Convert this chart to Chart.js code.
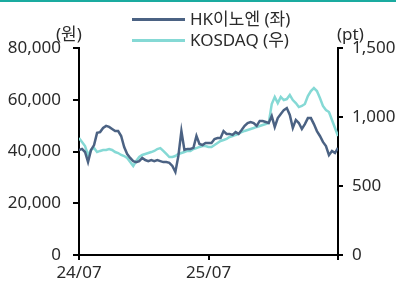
<!DOCTYPE html>
<html>
<head>
<meta charset="utf-8">
<script src="https://cdn.jsdelivr.net/npm/chart.js@4"></script>
<style>
  body { margin: 0; background: #fff; font-family: "Noto Sans", "Noto Sans CJK KR", sans-serif; }
  #wrap { position: relative; width: 396px; height: 282px; overflow: hidden; }
  #topline { position: absolute; left: 0; top: 0; width: 396px; height: 2px; background: #1aaba0; }
  canvas { position: absolute; left: 0; top: 0; }
  .txt { position: absolute; font-size: 17px; color: #2a2a2a; white-space: nowrap; line-height: 1; }
  .swatch { position: absolute; height: 3px; width: 53px; }
</style>
</head>
<body>
<div id="wrap">
  <div id="topline"></div>
  <canvas id="chart" width="396" height="282"></canvas>
  <div id="legend"></div>
  <div class="txt" style="left:56px;top:25px;">(원)</div>
  <div class="txt" style="left:337px;top:25px;">(pt)</div>
</div>
<script>
const seriesNames = ["HK이노엔 (좌)", "KOSDAQ (우)"];
const seriesColors = ["#4b6283", "#85d9d5"];

// x positions run in months from 24/07 (0) to 26/07 (24)
const tickLabels = { 0: "24/07", 12: "25/07" };

const hkValues = [
  40600, 41000, 39800, 35900, 40600, 42500, 47200, 47500, 49100, 49900,
  49500, 48700, 47900, 47900, 46000, 41700, 39000, 37500, 36300, 35900,
  36300, 37500, 36700, 36300, 36700, 36300, 36700, 36300, 35900, 35900,
  35600, 34400, 32100, 38300, 47900, 40600, 41000, 41000, 41400, 46000,
  42900, 42500, 43300, 43300, 43300, 44800, 45200, 45200, 47900, 46800,
  46800, 46400, 47500, 46800, 48300, 49900, 51000, 51400, 51000, 49900,
  51800, 51800, 51400, 51000, 53700, 49500, 52900, 54500, 56000, 56800,
  54100, 49100, 52200, 51000, 48700, 50600, 52900, 52900, 50600, 47900,
  46000, 43700, 42100, 38600, 40200, 39400, 41400
];

const kosdaqValues = [
  848, 819, 790, 725, 761, 775, 746, 754, 761, 761,
  768, 761, 746, 739, 725, 717, 703, 674, 645, 681,
  710, 725, 732, 739, 746, 754, 768, 775, 754, 732,
  710, 710, 717, 732, 739, 746, 754, 754, 768, 775,
  783, 790, 790, 783, 783, 797, 812, 826, 833, 841,
  855, 862, 870, 877, 891, 899, 906, 913, 920, 928,
  935, 942, 949, 956, 1094, 1145, 1101, 1145, 1123, 1130,
  1159, 1123, 1101, 1072, 1080, 1094, 1152, 1188, 1210, 1188,
  1138, 1080, 1051, 1036, 978, 920, 862
];

function toPoints(values) {
  const step = 24 / (values.length - 1);
  return values.map((v, i) => ({ x: i * step, y: v }));
}

// legend as plain html, stacked vertically
const legendEl = document.getElementById("legend");
seriesNames.forEach((name, i) => {
  const y = 19 + i * 21;
  legendEl.innerHTML +=
    '<div class="swatch" style="left:132px;top:' + (y - 1) + 'px;background:' + seriesColors[i] + '"></div>' +
    '<div class="txt" style="left:190px;top:' + (y - 9) + 'px;">' + name + '</div>';
});

const tickFont = { family: '"Noto Sans", "Noto Sans CJK KR", sans-serif', size: 17 };

new Chart(document.getElementById("chart"), {
  type: "line",
  data: {
    datasets: [
      {
        label: seriesNames[0],
        data: toPoints(hkValues),
        borderColor: seriesColors[0],
        borderWidth: 2.5,
        pointRadius: 0,
        tension: 0,
        yAxisID: "y"
      },
      {
        label: seriesNames[1],
        data: toPoints(kosdaqValues),
        borderColor: seriesColors[1],
        borderWidth: 2.5,
        pointRadius: 0,
        tension: 0,
        yAxisID: "y2"
      }
    ]
  },
  options: {
    responsive: false,
    animation: false,
    layout: { padding: { top: 48, left: 0, right: 0, bottom: 0 } },
    plugins: { legend: { display: false }, tooltip: { enabled: false } },
    scales: {
      x: {
        type: "linear",
        min: 0,
        max: 24,
        afterBuildTicks: (axis) => { axis.ticks = [{ value: 0 }, { value: 12 }, { value: 24 }]; },
        afterFit: (axis) => { axis.height = 27; },
        border: { color: "#000", width: 2 },
        grid: { drawOnChartArea: false, tickLength: 5, color: "#000", lineWidth: 2 },
        ticks: {
          color: "#2a2a2a",
          font: tickFont,
          padding: 3,
          maxRotation: 0,
          callback: (v) => tickLabels[v] || ""
        }
      },
      y: {
        position: "left",
        min: 0,
        max: 80000,
        afterFit: (axis) => { axis.width = 79; },
        border: { color: "#000", width: 2 },
        grid: { drawOnChartArea: false, tickLength: 6, color: "#000", lineWidth: 2 },
        ticks: {
          stepSize: 20000,
          color: "#2a2a2a",
          font: tickFont,
          padding: 12,
          callback: (v) => v.toLocaleString("en-US")
        }
      },
      y2: {
        position: "right",
        min: 0,
        max: 1500,
        afterFit: (axis) => { axis.width = 58; },
        border: { color: "#000", width: 2 },
        grid: { drawOnChartArea: false, tickLength: 5, color: "#000", lineWidth: 2 },
        ticks: {
          stepSize: 500,
          color: "#2a2a2a",
          font: tickFont,
          padding: 9,
          callback: (v) => v.toLocaleString("en-US")
        }
      }
    }
  }
});
</script>
</body>
</html>
